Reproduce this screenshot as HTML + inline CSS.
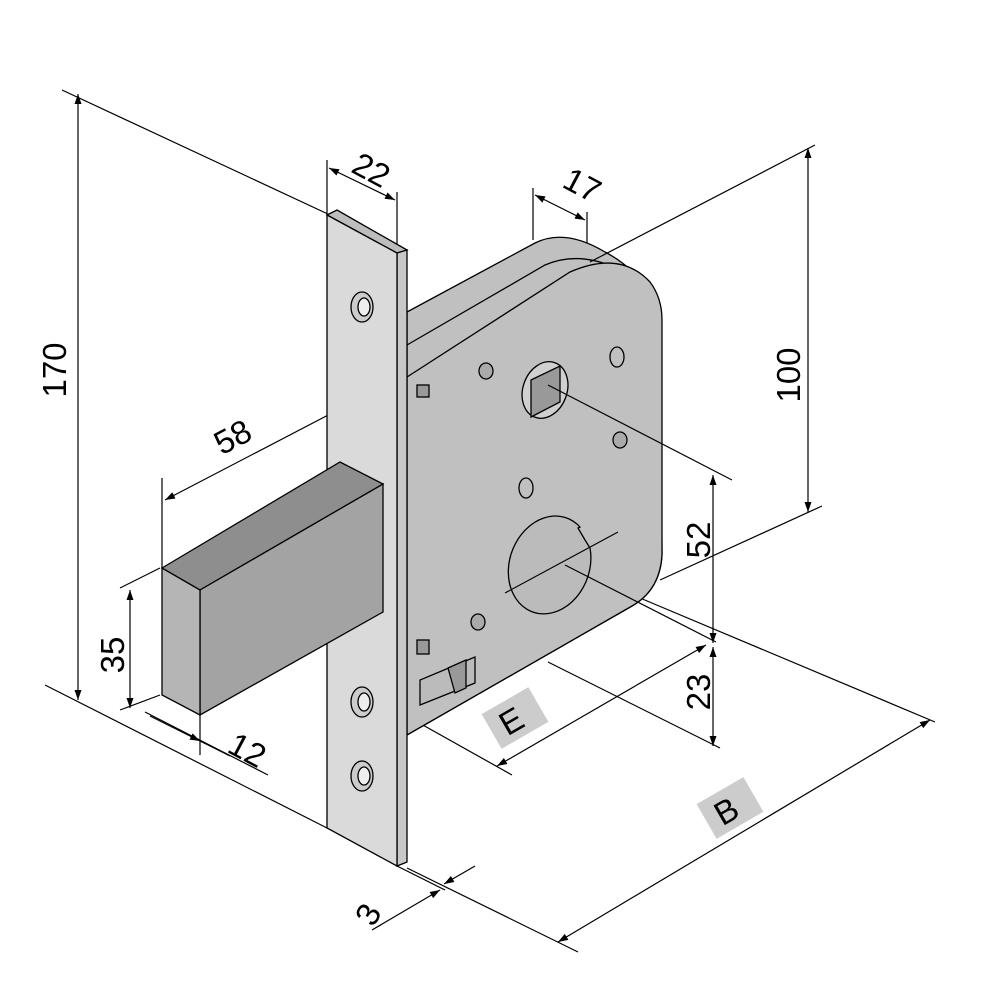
<!DOCTYPE html>
<html><head><style>body{margin:0;background:#fff}svg{display:block}text{font-family:"Liberation Sans",sans-serif;font-size:33px;fill:#000}</style></head>
<body>
<svg width="984" height="998" viewBox="0 0 984 998" xmlns="http://www.w3.org/2000/svg">
<defs><marker id="a" viewBox="0 0 10 10" refX="10" refY="5" markerWidth="14" markerHeight="10" orient="auto-start-reverse" markerUnits="userSpaceOnUse"><path d="M0,1.5L10,5L0,8.5z" fill="#000"/></marker></defs>
<g stroke="#000" stroke-width="1.2" fill="none">
<line x1="62" y1="90" x2="330" y2="215"/>
<line x1="45" y1="685" x2="327" y2="828"/>
<line x1="327" y1="160" x2="327" y2="213"/>
<line x1="397" y1="192" x2="397" y2="250"/>
<line x1="533" y1="188" x2="533" y2="240"/>
<line x1="587" y1="212" x2="587" y2="262"/>
<line x1="660" y1="580" x2="822" y2="506"/>
<line x1="548" y1="662" x2="720" y2="748"/>
<line x1="405" y1="715" x2="512" y2="775"/>
<line x1="407" y1="868" x2="578" y2="952"/>
<line x1="640" y1="598" x2="935" y2="722"/>
<line x1="162" y1="478" x2="162" y2="568"/>
<line x1="120" y1="588" x2="160" y2="568"/>
<line x1="120" y1="710" x2="160" y2="695"/>
<line x1="145" y1="712" x2="268" y2="775"/>
<line x1="200" y1="715" x2="200" y2="755"/>
<line x1="78" y1="94" x2="78" y2="700" marker-start="url(#a)" marker-end="url(#a)"/>
<line x1="329" y1="168" x2="395" y2="200" marker-start="url(#a)" marker-end="url(#a)"/>
<line x1="535" y1="195" x2="585" y2="220" marker-start="url(#a)" marker-end="url(#a)"/>
<line x1="808" y1="148" x2="808" y2="512" marker-start="url(#a)" marker-end="url(#a)"/>
<line x1="713" y1="475" x2="713" y2="643" marker-start="url(#a)" marker-end="url(#a)"/>
<line x1="713" y1="647" x2="713" y2="746" marker-start="url(#a)" marker-end="url(#a)"/>
<line x1="497" y1="766" x2="706" y2="645" marker-start="url(#a)" marker-end="url(#a)"/>
<line x1="558" y1="942" x2="930" y2="720" marker-start="url(#a)" marker-end="url(#a)"/>
<line x1="165" y1="500" x2="357" y2="400" marker-start="url(#a)" marker-end="url(#a)"/>
<line x1="130" y1="590" x2="130" y2="708" marker-start="url(#a)" marker-end="url(#a)"/>
<line x1="150" y1="716" x2="200" y2="741" marker-end="url(#a)"/>
<line x1="200" y1="741" x2="230" y2="756"/>
<line x1="372" y1="930" x2="440" y2="890" marker-end="url(#a)"/>
<line x1="475" y1="866" x2="444" y2="884" marker-end="url(#a)"/>
<line x1="397" y1="866" x2="445" y2="890"/>
</g>
<g stroke="#000" stroke-width="1.3">
<path d="M407,312 L535,243 Q565,228 605,252 Q640,270 660,310 L662,555 Q660,590 632,606 L407,735 Z" fill="#c0c0c0"/>
<path d="M407,345 L545,265 Q580,250 620,270" fill="none"/>
<path d="M407,377 L570,272 Q620,250 650,282 Q662,298 662,320 L662,555 Q660,590 632,606 L407,735 Z" fill="#c0c0c0"/>
<ellipse cx="545" cy="390" rx="22" ry="29" transform="rotate(20 545 390)" fill="#d0d0d0"/>
<path d="M531,380 L560,366 L560,402 L531,417 Z" fill="#999"/>
<ellipse cx="617" cy="357" rx="7" ry="10" fill="#c0c0c0"/>
<ellipse cx="526" cy="488" rx="7" ry="10" fill="#c0c0c0"/>
<ellipse cx="486" cy="371" rx="7" ry="8" fill="#aaa"/>
<ellipse cx="620" cy="440" rx="7" ry="8" fill="#aaa"/>
<ellipse cx="478" cy="622" rx="7" ry="8" fill="#aaa"/>
<path d="M580,527 A40,50 20 1 0 590,548 L585,540 L578,528 Z" fill="#bbb"/>
<rect x="417" y="385" width="12" height="12" fill="#999"/>
<rect x="417" y="640" width="12" height="14" fill="#999"/>
<path d="M420,705 L475,683 L475,657 L420,680 Z" fill="#bbb"/>
<path d="M448,668 L466,660 L466,688 L455,693 Z" fill="#999"/>
</g>
<g stroke="#000" stroke-width="1.2">
<line x1="505" y1="593" x2="618" y2="532"/>
<line x1="548" y1="385" x2="732" y2="480"/>
<line x1="565" y1="565" x2="716" y2="642"/>
<line x1="590" y1="262" x2="815" y2="145"/>
</g>
<g stroke="#000" stroke-width="1.3">
<path d="M327,215 L337,210 L407,250 L397,253 Z" fill="#bdbdbd"/>
<path d="M397,253 L407,250 L407,862 L397,866 Z" fill="#c8c8c8"/>
<path d="M327,215 L397,253 L397,866 L327,828 Z" fill="#dadada"/>
<ellipse cx="362" cy="307" rx="11" ry="15" fill="#ccc"/><ellipse cx="364" cy="307" rx="6" ry="9" fill="#eee"/>
<ellipse cx="362" cy="702" rx="11" ry="15" fill="#ccc"/><ellipse cx="364" cy="702" rx="6" ry="9" fill="#eee"/>
<ellipse cx="362" cy="776" rx="11" ry="15" fill="#ccc"/><ellipse cx="364" cy="776" rx="6" ry="9" fill="#eee"/>
</g>
<g stroke="#000" stroke-width="1.3">
<path d="M162,568 L340,462 L383,484 L200,590 Z" fill="#8e8e8e"/>
<path d="M200,590 L383,484 L383,612 L200,715 Z" fill="#a3a3a3"/>
<path d="M162,568 L200,590 L200,715 L162,695 Z" fill="#b5b5b5"/>
</g>
<g fill="#ccc"><rect x="488" y="698" width="54" height="40" transform="rotate(-30 515 718)"/><rect x="703" y="788" width="54" height="40" transform="rotate(-30 730 808)"/></g>
<text transform="translate(66,370) rotate(-90)" text-anchor="middle">170</text>
<text transform="translate(366,180) rotate(28)" text-anchor="middle">22</text>
<text transform="translate(577,195) rotate(28)" text-anchor="middle">17</text>
<text transform="translate(800,375) rotate(-90)" text-anchor="middle">100</text>
<text transform="translate(238,447) rotate(-28)" text-anchor="middle">58</text>
<text transform="translate(710,540) rotate(-90)" text-anchor="middle">52</text>
<text transform="translate(710,692) rotate(-90)" text-anchor="middle">23</text>
<text transform="translate(124,655) rotate(-90)" text-anchor="middle">35</text>
<text transform="translate(242,760) rotate(28)" text-anchor="middle">12</text>
<text transform="translate(378,920) rotate(-60)" text-anchor="middle">3</text>
<text transform="translate(517,731) rotate(-30)" text-anchor="middle">E</text>
<text transform="translate(732,821) rotate(-30)" text-anchor="middle">B</text>
</svg>
</body></html>
